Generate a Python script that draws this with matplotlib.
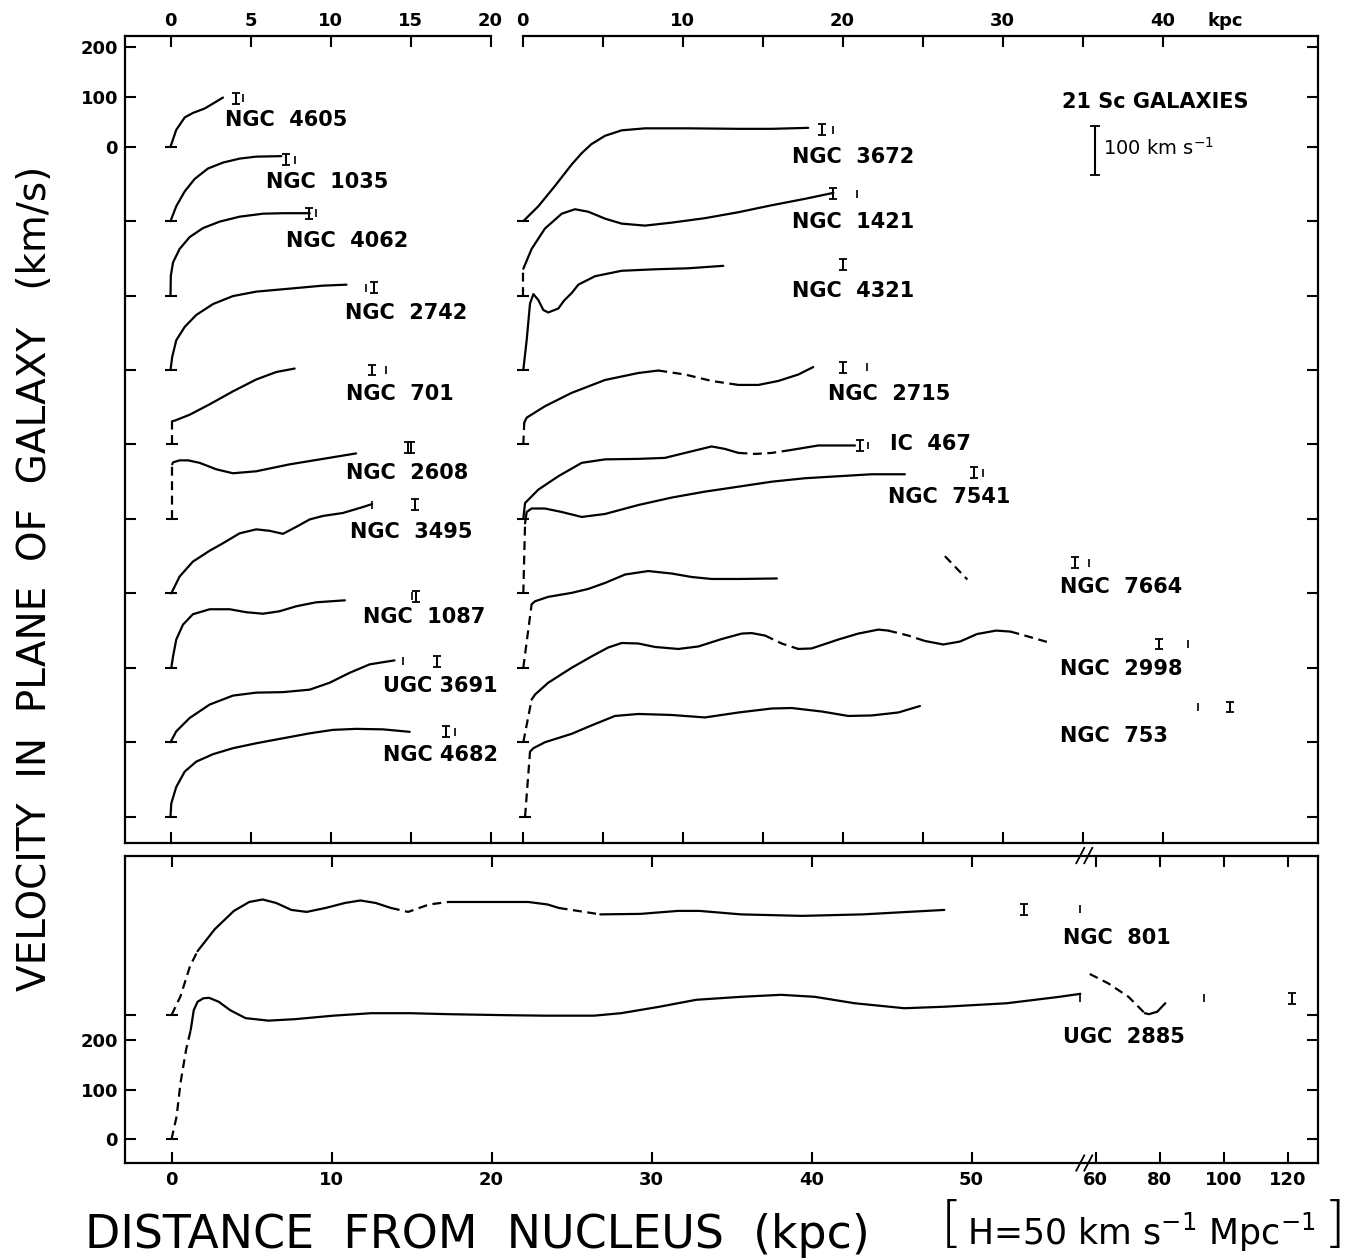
import matplotlib
matplotlib.use("Agg")
import matplotlib.pyplot as plt
from matplotlib.transforms import blended_transform_factory as blend

plt.rcParams['font.family'] = ['DejaVu Sans']

# ------------------------------------------------------------------
# DATA  (radius in kpc, rotation velocity in km/s)
# ------------------------------------------------------------------
# ---- left column ----
N4605_R = [0, 0.36, 0.89, 1.4, 2.14, 2.66, 3.28]
N4605_V = [0, 34, 59, 68, 77, 87, 99]
N4605_MR, N4605_MK, N4605_MV = [4.08, 4.53], ['I', '|'], 98

N1035_R = [0, 0.36, 0.89, 1.51, 2.34, 3.28, 4.32, 5.36, 6.93]
N1035_V = [0, 30, 60, 85, 106, 118, 126, 130, 131]
N1035_MR, N1035_MK, N1035_MV = [7.2, 7.8], ['I', '|'], 124

N4062_R = [0, 0.02, 0.16, 0.57, 1.2, 2.03, 3.07, 4.32, 5.78, 7.03, 8.7]
N4062_V = [0, 40, 67, 94, 118, 136, 149, 159, 165, 166, 166]
N4062_MR, N4062_MK, N4062_MV = [8.66, 9.1], ['I', '|'], 166

N2742_R = [0, 0.11, 0.36, 0.89, 1.61, 2.66, 3.9, 5.36, 7.45, 9.5, 11.0]
N2742_V = [0, 27, 60, 87, 111, 133, 149, 158, 164, 170, 172]
N2742_MR, N2742_MK, N2742_MV = [12.2, 12.7], ['|', 'I'], 166

N701_R = [0.11, 0.11, 0.26, 1.2, 2.45, 3.9, 5.36, 6.61, 7.76]
N701_V = [0, 47, 48, 60, 81, 107, 131, 146, 153]
N701_MR, N701_MK, N701_MV = [12.6, 13.45], ['I', '|'], 150

N2608_R = [0.11, 0.11, 0.16, 0.57, 1.1, 1.82, 2.86, 3.9, 5.36, 7.45, 9.53, 11.6]
N2608_V = [0, 110, 114, 118, 118, 113, 100, 92, 96, 110, 121, 132]
N2608_MR, N2608_MK, N2608_MV = [14.85, 15.05], ['I', 'I'], 143

N3495_R = [0.05, 0.57, 1.4, 2.45, 3.28, 4.32, 5.36, 6.2, 7.03, 7.86, 8.7, 9.53, 10.78, 12.03, 12.6]
N3495_V = [0, 34, 64, 86, 101, 121, 129, 126, 120, 134, 149, 156, 162, 174, 180]
N3495_MR, N3495_MK, N3495_MV = [12.6, 15.3], ['|', 'I'], 179

N1087_R = [0.05, 0.16, 0.36, 0.78, 1.4, 2.45, 3.7, 4.74, 5.78, 6.82, 7.86, 9.1, 10.9]
N1087_V = [0, 23, 57, 87, 108, 118, 118, 112, 109, 114, 124, 132, 136]
N1087_MR, N1087_MK, N1087_MV = [15.07, 15.36], ['|', 'I'], 144

U3691_R = [0, 0.36, 1.2, 2.45, 3.9, 5.36, 7.03, 8.7, 9.95, 11.2, 12.45, 14.0]
U3691_V = [0, 22, 49, 76, 94, 100, 101, 106, 120, 140, 157, 165]
U3691_MR, U3691_MK, U3691_MV = [14.5, 16.65], ['|', 'I'], 163

N4682_R = [0, 0.05, 0.36, 0.89, 1.61, 2.66, 3.9, 5.36, 7.03, 8.7, 10.16, 11.6, 13.28, 14.95]
N4682_V = [0, 27, 60, 91, 111, 126, 138, 148, 158, 168, 175, 177, 176, 171]
N4682_MR, N4682_MK, N4682_MV = [17.2, 17.76], ['I', '|'], 171

# ---- right column ----
N3672_R = [0.05, 0.99, 2.03, 3.07, 3.7, 4.3, 5.16, 6.2, 7.66, 10.36, 13.5, 15.57, 17.86]
N3672_V = [0, 30, 71, 114, 137, 155, 172, 183, 187, 187, 186, 186, 188]
N3672_MR, N3672_MK, N3672_MV = [18.7, 19.43], ['I', '|'], 184

N1421_R = [0.05, 0.05, 0.57, 1.4, 2.45, 3.28, 4.11, 5.16, 6.2, 7.66, 9.32, 11.4, 13.5, 15.57, 17.66, 19.43]
N1421_V = [0, 54, 94, 135, 165, 174, 169, 155, 145, 141, 147, 156, 168, 182, 195, 207]
N1421_MR, N1421_MK, N1421_MV = [19.43, 20.9], ['I', '|'], 205

N4321_R = [0.05, 0.26, 0.47, 0.68, 0.99, 1.3, 1.61, 2.24, 2.6, 3.07, 3.49, 4.53, 6.2, 8.28, 10.36, 12.55]
N4321_V = [0, 60, 134, 153, 141, 121, 116, 124, 140, 155, 172, 189, 200, 203, 205, 210]
N4321_MR, N4321_MK, N4321_MV = [20.0], ['I'], 212

N2715_R = [0.05, 0.11, 0.26, 1.4, 3.07, 5.16, 7.24, 8.49, 10.16, 11.82, 13.5, 14.74, 15.99, 17.24, 18.17]
N2715_V = [0, 44, 54, 77, 104, 130, 144, 149, 141, 128, 120, 120, 128, 141, 156]
N2715_MR, N2715_MK, N2715_MV = [20.05, 21.5], ['I', '|'], 156

I467_R = [0.05, 0.16, 0.99, 2.24, 3.7, 5.16, 7.24, 8.9, 10.16, 11.82, 12.66, 13.5, 14.55, 15.57, 16.61, 18.49, 20.78]
I467_V = [0, 32, 59, 86, 113, 120, 121, 123, 133, 146, 141, 133, 131, 133, 138, 148, 148]
I467_MR, I467_MK, I467_MV = [21.1, 21.6], ['I', '|'], 148

N7541_R = [0.05, 0.16, 0.26, 0.57, 1.4, 2.45, 3.7, 5.16, 7.24, 9.32, 11.4, 13.5, 15.57, 17.66, 19.74, 21.82, 23.9]
N7541_V = [0, 141, 164, 171, 171, 164, 154, 160, 178, 193, 205, 215, 225, 232, 236, 240, 240]
N7541_MR, N7541_MK, N7541_MV = [28.2, 28.8], ['I', '|'], 243

N7664_R = [0.05, 0.57, 0.78, 1.61, 3.07, 4.11, 5.16, 6.41, 7.86, 9.32, 10.57, 11.82, 13.5, 15.9]
N7664_V = [0, 128, 134, 143, 151, 159, 171, 188, 195, 190, 183, 179, 179, 180]
N7664_OUT_R = [26.4, 27.8]
N7664_OUT_V = [225, 178]
N7664_MR, N7664_MK, N7664_MV = [34.5, 35.4], ['I', '|'], 212

N2998_R = [0.05, 0.57, 0.78, 1.61, 3.07, 4.32, 5.36, 6.2, 7.24, 8.28, 9.74, 10.99, 12.45, 13.7,
           14.32, 15.16, 16.2, 17.24, 18.07, 19.74, 20.99, 22.24, 22.86, 24.11, 25.16, 26.3,
           27.35, 28.4, 29.6, 30.5, 31.5, 32.8]
N2998_V = [0, 86, 96, 120, 150, 173, 191, 200, 199, 192, 188, 193, 208, 219, 220, 215, 199, 188,
           189, 207, 219, 227, 225, 215, 204, 197, 203, 218, 225, 223, 214, 202]
N2998_MR, N2998_MK, N2998_MV = [39.8, 41.6], ['I', '|'], 198

N753_R = [0.16, 0.47, 0.68, 1.4, 3.07, 4.32, 5.78, 7.24, 9.32, 11.4, 13.5, 15.57, 16.82, 18.7,
          20.36, 21.82, 23.49, 24.84]
N753_V = [0, 131, 138, 150, 167, 184, 203, 207, 205, 200, 210, 218, 219, 212, 203, 204, 210, 223]
N753_MR, N753_MK, N753_MV = [42.2, 44.2], ['|', 'I'], 221

# ---- lower panel ----
N801_R = [0, 0.56, 1.16, 1.63, 2.7, 3.9, 4.86, 5.7, 6.54, 7.49, 8.45, 9.64, 10.84, 11.8, 12.76,
          13.71, 14.79, 16.1, 17.3, 19.7, 22.3, 23.5, 24.2, 26.4, 26.8, 29.3, 31.65, 33.0, 35.6,
          39.4, 43.2, 48.3]
N801_V = [0, 38, 99, 129, 173, 210, 228, 233, 226, 212, 208, 216, 226, 231, 226, 216, 208, 223,
          228, 228, 228, 223, 216, 205, 203, 204, 210, 210, 203, 200, 203, 212]
N801_MR, N801_MK, N801_MV = [53.3, 56.8], ['I', '|'], 213

U2885_R = [0, 0.32, 0.56, 0.91, 1.2, 1.39, 1.63, 1.99, 2.35, 2.95, 3.67, 4.63, 6.06, 7.73, 10.1,
           12.5, 14.9, 17.3, 20.9, 23.3, 26.4, 28.1, 30.5, 32.8, 35.6, 38.1, 40.2, 42.7, 45.8,
           48.3, 52.2, 55.5, 56.8]
U2885_V = [0, 46, 113, 180, 220, 260, 277, 284, 285, 277, 260, 244, 239, 242, 249, 254, 254, 252,
           250, 249, 249, 254, 267, 281, 287, 291, 287, 274, 264, 267, 274, 287, 293]
U2885_OUT_R = [58.2, 64, 70.3, 75.4, 76.7, 79.3, 81.8]
U2885_OUT_V = [333, 314, 287, 254, 252, 257, 274]
U2885_MR, U2885_MK, U2885_MV = [56.8, 93.8, 121.3], ['|', '|', 'I'], 284

# axis tick labels
TOP_LEFT_TICKS = [0, 5, 10, 15, 20]
TOP_RIGHT_TICKS = [0, 10, 20, 30, 40]
VEL_TICKS = [200, 100, 0]
BOT_TICKS_LIN = [0, 10, 20, 30, 40, 50]
BOT_TICKS_BRK = [60, 80, 100, 120]

# ------------------------------------------------------------------
# LAYOUT / STYLE
# ------------------------------------------------------------------
W, H = 1347, 1258
STEP = 150          # vertical offset between successive curves (km/s)
RIGHT_X0 = 22.0     # start of right-hand column on the kpc axis
LW = 1.6
DASH = (0, (4, 2.5))

fig = plt.figure(figsize=(W / 100, H / 100), dpi=100)
fig.patch.set_facecolor('white')


def fx(px):
    return px / W


def fy(py):
    return 1 - py / H


ax = fig.add_axes([fx(125), fy(842.7), (1318 - 125) / W, (842.7 - 36) / H])
axb = fig.add_axes([fx(125), fy(1163), (1318 - 125) / W, (1163 - 855.5) / H])

ax.set_xlim((125 - 170.5) / 16, (1318 - 170.5) / 16)
ax.set_ylim(-(842.7 - 146.7) / 0.4963, (146.7 - 36) / 0.4963)
axb.set_xlim((125 - 171.5) / 16, (1318 - 171.5) / 16)
axb.set_ylim(-(1163 - 1139.3) / 0.4965, (1139.3 - 855.5) / 0.4965)


def brk(r):
    """broken distance scale of the lower panel"""
    return r if r <= 57 else 57.75 + (r - 60) * 0.2


def draw(axis, xs, ys, dashed=()):
    n = len(xs)
    seg_d = [any(a <= k < b for a, b in dashed) for k in range(n - 1)]
    k = 0
    while k < n - 1:
        j = k
        while j < n - 1 and seg_d[j] == seg_d[k]:
            j += 1
        axis.plot(xs[k:j + 1], ys[k:j + 1], color='k', lw=LW,
                  ls=DASH if seg_d[k] else '-', solid_capstyle='round',
                  solid_joinstyle='round')
        k = j


def marks(axis, xs, kinds, y):
    for x, kd in zip(xs, kinds):
        if kd == 'I':
            axis.errorbar([x], [y], yerr=11, fmt='none', ecolor='k',
                          elinewidth=1.4, capsize=3, capthick=1.3)
        else:
            axis.errorbar([x], [y], yerr=8, fmt='none', ecolor='k',
                          elinewidth=1.2, capsize=0)


def galaxy(axis, x0, off, R, V, MR, MK, MV, dashed=(), xmap=None):
    xm = xmap if xmap else (lambda r: x0 + r)
    xs = [xm(r) for r in R]
    ys = [off + v for v in V]
    draw(axis, xs, ys, dashed)
    axis.plot([xs[0]], [off], marker='_', ms=8, mew=1.5, color='k')
    marks(axis, [xm(r) for r in MR], MK, off + MV)


LEFT = [
    (N4605_R, N4605_V, N4605_MR, N4605_MK, N4605_MV, ()),
    (N1035_R, N1035_V, N1035_MR, N1035_MK, N1035_MV, ()),
    (N4062_R, N4062_V, N4062_MR, N4062_MK, N4062_MV, ()),
    (N2742_R, N2742_V, N2742_MR, N2742_MK, N2742_MV, ()),
    (N701_R, N701_V, N701_MR, N701_MK, N701_MV, [(0, 1)]),
    (N2608_R, N2608_V, N2608_MR, N2608_MK, N2608_MV, [(0, 1)]),
    (N3495_R, N3495_V, N3495_MR, N3495_MK, N3495_MV, ()),
    (N1087_R, N1087_V, N1087_MR, N1087_MK, N1087_MV, ()),
    (U3691_R, U3691_V, U3691_MR, U3691_MK, U3691_MV, ()),
    (N4682_R, N4682_V, N4682_MR, N4682_MK, N4682_MV, ()),
]
for i, (R, V, MR, MK, MV, d) in enumerate(LEFT):
    galaxy(ax, 0.0, -STEP * i, R, V, MR, MK, MV, d)

RIGHT = [
    (1, N3672_R, N3672_V, N3672_MR, N3672_MK, N3672_MV, ()),
    (2, N1421_R, N1421_V, N1421_MR, N1421_MK, N1421_MV, [(0, 1)]),
    (3, N4321_R, N4321_V, N4321_MR, N4321_MK, N4321_MV, ()),
    (4, N2715_R, N2715_V, N2715_MR, N2715_MK, N2715_MV, [(0, 1), (7, 10)]),
    (5, I467_R, I467_V, I467_MR, I467_MK, I467_MV, [(11, 14)]),
    (6, N7541_R, N7541_V, N7541_MR, N7541_MK, N7541_MV, [(0, 1)]),
    (7, N7664_R, N7664_V, N7664_MR, N7664_MK, N7664_MV, [(0, 1)]),
    (8, N2998_R, N2998_V, N2998_MR, N2998_MK, N2998_MV, [(0, 1), (15, 17), (22, 24), (29, 31)]),
    (9, N753_R, N753_V, N753_MR, N753_MK, N753_MV, [(0, 1)]),
]
for i, R, V, MR, MK, MV, d in RIGHT:
    galaxy(ax, RIGHT_X0, -STEP * i, R, V, MR, MK, MV, d)
draw(ax, [RIGHT_X0 + r for r in N7664_OUT_R], [-STEP * 7 + v for v in N7664_OUT_V], [(0, 1)])

# lower panel
galaxy(axb, 0, 250, N801_R, N801_V, N801_MR, N801_MK, N801_MV,
       [(0, 3), (15, 18), (22, 24)], xmap=brk)
galaxy(axb, 0, 0, U2885_R, U2885_V, U2885_MR, U2885_MK, U2885_MV,
       [(0, 4)], xmap=brk)
draw(axb, [brk(r) for r in U2885_OUT_R], U2885_OUT_V, [(0, 3)])

# scale bar 100 km/s
ax.errorbar([(1095 - 170.5) / 16], [-7.5], yerr=50, fmt='none', ecolor='k',
            elinewidth=1.5, capsize=3.5, capthick=1.3)

# ------------------------------------------------------------------
# axes decoration
# ------------------------------------------------------------------
TICKFONT = dict(fontsize=13, fontweight='bold')
for a in (ax, axb):
    for s in a.spines.values():
        s.set_linewidth(1.6)
    a.tick_params(direction='in', length=8, width=1.5, top=True, right=True,
                  bottom=True, left=True)

# main panel ticks
top_pos = TOP_LEFT_TICKS + [RIGHT_X0 + t for t in TOP_RIGHT_TICKS]
top_lab = [str(t) for t in TOP_LEFT_TICKS] + [str(t) for t in TOP_RIGHT_TICKS]
ax.set_xticks(top_pos)
ax.set_xticklabels(top_lab, **TICKFONT)
ax.set_xticks([RIGHT_X0 + t for t in (5, 15, 25, 35)], minor=True)
ax.tick_params(which='minor', direction='in', length=8, width=1.5, top=True, bottom=True)
ax.tick_params(labeltop=True, labelbottom=False, pad=4)
ytk = VEL_TICKS + [-STEP * i for i in range(1, 10)]
ax.set_yticks(ytk)
ax.set_yticklabels([str(v) for v in VEL_TICKS] + [''] * 9, **TICKFONT)
ax.tick_params(axis='y', pad=5)
# gap in the top frame between the two columns
ax.spines['top'].set_visible(False)
tr = blend(ax.transData, ax.transAxes)
ax.plot([ax.get_xlim()[0], 20], [1, 1], color='k', lw=1.6, transform=tr, clip_on=False)
ax.plot([RIGHT_X0, ax.get_xlim()[1]], [1, 1], color='k', lw=1.6, transform=tr, clip_on=False)

# lower panel ticks
bpos = BOT_TICKS_LIN + [brk(t) for t in BOT_TICKS_BRK]
axb.set_xticks(bpos)
axb.set_xticklabels([str(t) for t in BOT_TICKS_LIN + BOT_TICKS_BRK], **TICKFONT)
axb.set_yticks([0, 100, 200, 250])
axb.set_yticklabels(['0', '100', '200', ''], **TICKFONT)
axb.tick_params(axis='x', pad=6)
axb.tick_params(axis='y', pad=5)
trb = blend(axb.transData, axb.transAxes)
for yb in (0.0, 1.0):
    for dx in (-0.35, 0.15):
        axb.plot([56.9 + dx, 57.4 + dx], [yb - 0.025, yb + 0.025], color='k', lw=1.3,
                 transform=trb, clip_on=False)

# ------------------------------------------------------------------
# texts (positions in figure pixels)
# ------------------------------------------------------------------
LBL = dict(fontsize=15, fontweight='bold', ha='left', va='center')
LABELS = [
    ("NGC  4605", 225, 120), ("NGC  1035", 266, 182), ("NGC  4062", 286, 241),
    ("NGC  2742", 345, 313), ("NGC  701", 346, 394), ("NGC  2608", 346, 473),
    ("NGC  3495", 350, 532), ("NGC  1087", 363, 617), ("UGC 3691", 383, 686),
    ("NGC 4682", 383, 755),
    ("NGC  3672", 792, 157), ("NGC  1421", 792, 222), ("NGC  4321", 792, 291),
    ("NGC  2715", 828, 394), ("IC  467", 890, 444), ("NGC  7541", 888, 497),
    ("NGC  7664", 1060, 587), ("NGC  2998", 1060, 669), ("NGC  753", 1060, 736),
    ("NGC  801", 1063, 938), ("UGC  2885", 1063, 1037),
]
for t, px, py in LABELS:
    fig.text(fx(px), fy(py), t, **LBL)

fig.text(fx(1225), fy(21), "kpc", ha='center', va='center', **TICKFONT)
fig.text(fx(1062), fy(102), "21 Sc GALAXIES", **LBL)
fig.text(fx(1103), fy(148), r"100 km s$^{-1}$", fontsize=14, ha='left', va='center')

fig.text(fx(35), fy(578), "VELOCITY  IN  PLANE  OF  GALAXY   (km/s)", rotation=90,
         ha='center', va='center', fontsize=28)
fig.text(fx(85), fy(1236), "DISTANCE  FROM  NUCLEUS  (kpc)", ha='left', va='center',
         fontsize=33)
fig.text(fx(941), fy(1226), "[", ha='left', va='center', fontsize=40, fontweight='light')
fig.text(fx(1345), fy(1226), "]", ha='right', va='center', fontsize=40, fontweight='light')
fig.text(fx(967), fy(1232), r"H=50 km s$^{-1}$ Mpc$^{-1}$", ha='left', va='center',
         fontsize=25)

fig.savefig("out.png", dpi=100, facecolor='white')
